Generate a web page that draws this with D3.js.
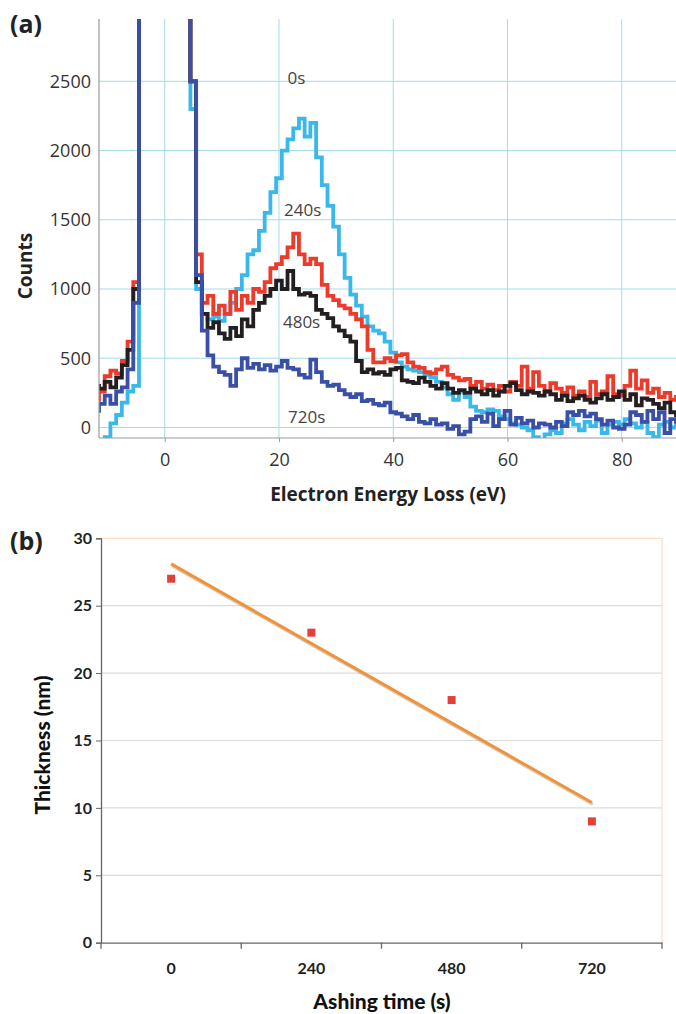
<!DOCTYPE html>
<html>
<head>
<meta charset="utf-8">
<script src="https://cdn.jsdelivr.net/npm/d3@7"></script>
<style>
body { margin: 0; background: #fff; }
svg { display: block; }
</style>
</head>
<body>
<svg width="676" height="1014"></svg>
<script>
// ---- panel (a) data: EELS counts, 1 eV steps from -12 to 90 eV
var energy = d3.range(-12, 91);

var counts0s = [-110, -90, -70, 30, 90, 180, 260, 300,
  9000, 30000, 30000, 30000, 30000, 30000, 30000, 30000, 9000,
  2300, 1000, 820, 780, 800, 770, 820, 900, 1000, 1100,
  1250, 1280, 1420, 1550, 1700, 1800, 2000, 2080, 2160, 2230,
  2100, 2200, 1950, 1750, 1600, 1450, 1250, 1080, 960, 880,
  800, 730, 700, 680, 620, 540, 470, 440, 420, 410,
  400, 380, 360, 330, 290, 240, 200, 260, 220, 150,
  120, 110, 130, 120, 80, 60, 30, 20, 0, -20,
  -70, -90, -50, -20, -40, 30, 60, 20, -20, 40,
  10, 50, -40, 20, 40, 20, 60, 30, 0, 40,
  -40, -70, 20, 40, 0, 30];

var counts240s = [200, 260, 370, 410, 390, 480, 620, 1050,
  9000, 30000, 30000, 30000, 30000, 30000, 30000, 30000, 9000,
  2500, 1250, 900, 950, 820, 880, 820, 980, 850, 950,
  900, 1000, 980, 1050, 1150, 1180, 1230, 1300, 1400, 1250,
  1180, 1220, 1180, 1030, 950, 920, 880, 860, 820, 780,
  730, 560, 470, 470, 500, 480, 520, 530, 470, 440,
  430, 400, 390, 420, 440, 380, 360, 340, 350, 300,
  330, 280, 310, 270, 300, 260, 330, 300, 440, 280,
  400, 300, 260, 320, 280, 250, 290, 230, 260, 220,
  330, 240, 260, 370, 240, 230, 300, 410, 280, 340,
  250, 280, 220, 250, 200, 220];

var counts480s = [300, 280, 330, 290, 360, 450, 560, 1000,
  9000, 30000, 30000, 30000, 30000, 30000, 30000, 30000, 9000,
  2500, 1050, 820, 720, 760, 680, 640, 720, 660, 780,
  730, 850, 900, 950, 1000, 1060, 1000, 1130, 1000, 960,
  970, 950, 850, 820, 790, 730, 700, 660, 620, 480,
  400, 420, 390, 400, 380, 420, 430, 340, 330, 320,
  360, 330, 300, 280, 320, 280, 250, 270, 250, 280,
  260, 240, 270, 230, 260, 300, 320, 270, 240, 260,
  250, 230, 260, 240, 200, 230, 190, 210, 230, 200,
  180, 210, 240, 200, 220, 260, 200, 240, 160, 210,
  200, 170, 140, 180, 110, 90];

var counts720s = [120, 170, 230, 170, 260, 290, 420, 900,
  9000, 30000, 30000, 30000, 30000, 30000, 30000, 30000, 9000,
  2500, 1100, 700, 520, 440, 400, 380, 300, 420, 500,
  430, 460, 420, 450, 410, 440, 480, 430, 420, 380,
  360, 490, 400, 330, 300, 310, 270, 240, 220, 240,
  190, 200, 170, 160, 180, 110, 100, 80, 60, 90,
  40, 30, 60, 20, 30, -10, 10, -50, -30, 60,
  80, 40, 100, 10, 60, 120, 20, 70, 30, 50,
  0, 30, 20, 0, 40, 10, 110, 90, 120, 80,
  100, 60, 20, 50, 0, -10, 20, 110, 90, 40,
  120, 60, 110, -40, 60, 40];

var seriesNames = ["0s", "240s", "480s", "720s"];
var seriesColors = ["#3bb8ea", "#ec3a2b", "#231f20", "#3a4fa6"];
var countTicks = [0, 500, 1000, 1500, 2000, 2500];
var energyTicks = [0, 20, 40, 60, 80];
// where the time labels sit (eV, counts)
var labelPos = [[21.5, 2480], [20.9, 1530], [20.7, 720], [21.6, 30]];

// ---- panel (b) data
var ashTimes = ["0", "240", "480", "720"];
var thickness = [27, 23, 18, 9];
var thickTicks = [0, 5, 10, 15, 20, 25, 30];

var svg = d3.select("svg");

// ================= panel (a)
var ax = { left: 99, right: 676, top: 19, bottom: 438 };

var x = d3.scaleLinear().domain([-11.5, 89.5]).range([ax.left, ax.right]);
var y = d3.scaleLinear().domain([-76, 2950]).range([ax.bottom, ax.top]);

var ga = svg.append("g");

ga.append("clipPath").attr("id", "clipA")
  .append("rect")
    .attr("x", ax.left).attr("y", ax.top)
    .attr("width", ax.right - ax.left).attr("height", ax.bottom - ax.top);

// grid
ga.selectAll("line.hgrid")
  .data(countTicks)
  .enter().append("line")
    .attr("x1", ax.left).attr("x2", ax.right)
    .attr("y1", function(d) { return y(d); })
    .attr("y2", function(d) { return y(d); })
    .attr("stroke", "#a6dbe8").attr("stroke-width", 1);

ga.selectAll("line.vgrid")
  .data(energyTicks)
  .enter().append("line")
    .attr("y1", ax.top).attr("y2", ax.bottom)
    .attr("x1", function(d) { return x(d); })
    .attr("x2", function(d) { return x(d); })
    .attr("stroke", "#a6dbe8").attr("stroke-width", 1);

// spectra
var allSeries = [counts0s, counts240s, counts480s, counts720s];
var line = d3.line()
    .x(function(d, i) { return x(energy[i]); })
    .y(function(d) { return y(d); })
    .curve(d3.curveStep);

ga.append("g")
    .attr("clip-path", "url(#clipA)")
  .selectAll("path")
  .data(allSeries)
  .enter().append("path")
    .attr("d", line)
    .attr("fill", "none")
    .attr("stroke", function(d, i) { return seriesColors[i]; })
    .attr("stroke-width", 3.8)
    .attr("stroke-linejoin", "miter");

// axes
var yAxisA = ga.append("g")
    .attr("transform", "translate(" + ax.left + ",0)")
    .call(d3.axisLeft(y).tickValues(countTicks).tickFormat(d3.format("d"))
      .tickSize(0).tickPadding(8));
yAxisA.select(".domain").remove();
yAxisA.selectAll("text")
    .attr("font-family", "Open Sans, sans-serif")
    .attr("font-size", 18)
    .attr("fill", "#333");

var xAxisA = ga.append("g")
    .attr("transform", "translate(0," + ax.bottom + ")")
    .call(d3.axisBottom(x).tickValues(energyTicks).tickSize(4));
xAxisA.select(".domain").remove();
xAxisA.selectAll(".tick line").attr("stroke", "#9a9a9a");
xAxisA.selectAll("text")
    .attr("dy", null).attr("y", 28)
    .attr("font-family", "Open Sans, sans-serif")
    .attr("font-size", 18)
    .attr("fill", "#333");

ga.append("line")
    .attr("x1", ax.left).attr("x2", ax.left)
    .attr("y1", ax.top).attr("y2", ax.bottom)
    .attr("stroke", "#9a9a9a").attr("stroke-width", 1.2);
ga.append("line")
    .attr("x1", ax.left).attr("x2", ax.right)
    .attr("y1", ax.bottom).attr("y2", ax.bottom)
    .attr("stroke", "#9a9a9a").attr("stroke-width", 1.2);

// time labels
ga.selectAll("text.tlabel")
  .data(seriesNames)
  .enter().append("text")
    .attr("x", function(d, i) { return x(labelPos[i][0]); })
    .attr("y", function(d, i) { return y(labelPos[i][1]); })
    .attr("font-family", "Open Sans, sans-serif")
    .attr("font-size", 17)
    .attr("fill", "#444")
    .text(function(d) { return d; });

ga.append("text")
    .attr("x", 388).attr("y", 501)
    .attr("text-anchor", "middle")
    .attr("font-family", "Open Sans, sans-serif")
    .attr("font-weight", "bold")
    .attr("font-size", 19)
    .attr("fill", "#222")
    .text("Electron Energy Loss (eV)");

ga.append("text")
    .attr("transform", "translate(32,266) rotate(-90)")
    .attr("text-anchor", "middle")
    .attr("font-family", "Open Sans, sans-serif")
    .attr("font-weight", "bold")
    .attr("font-size", 19)
    .attr("fill", "#222")
    .text("Counts");

ga.append("text")
    .attr("x", 10).attr("y", 33)
    .attr("font-family", "Open Sans, sans-serif")
    .attr("font-weight", "bold")
    .attr("font-size", 25)
    .attr("fill", "#222")
    .text("(a)");

// ================= panel (b)
var bx = { left: 101, right: 662, top: 538.3, bottom: 942.7 };

var xb = d3.scaleBand().domain(ashTimes).range([bx.left, bx.right]);
var yb = d3.scaleLinear().domain([0, 30]).range([bx.bottom, bx.top]);
var bw = xb.bandwidth();

var gb = svg.append("g");

gb.selectAll("line.grid")
  .data(thickTicks.slice(1, -1))
  .enter().append("line")
    .attr("x1", bx.left).attr("x2", bx.right)
    .attr("y1", function(d) { return yb(d); })
    .attr("y2", function(d) { return yb(d); })
    .attr("stroke", "#dcdcdc").attr("stroke-width", 1.2);

// light orange frame top and right
gb.append("path")
    .attr("d", "M" + bx.left + "," + yb(30) + "H" + bx.right + "V" + bx.bottom)
    .attr("fill", "none")
    .attr("stroke", "#fcdcc4").attr("stroke-width", 1.2);

var yAxisB = gb.append("g")
    .attr("transform", "translate(" + bx.left + ",0)")
    .call(d3.axisLeft(yb).tickValues(thickTicks).tickSize(5).tickPadding(4));
yAxisB.select(".domain").attr("stroke", "#666").attr("stroke-width", 1.3);
yAxisB.selectAll(".tick line").attr("stroke", "#666");
yAxisB.selectAll("text")
    .attr("font-family", "Lato, sans-serif")
    .attr("font-weight", "bold")
    .attr("font-size", 16)
    .attr("fill", "#222");

var xAxisB = gb.append("g")
    .attr("transform", "translate(0," + bx.bottom + ")")
    .call(d3.axisBottom(xb).tickSize(0).tickPadding(0));
xAxisB.select(".domain").attr("stroke", "#666").attr("stroke-width", 1.3);
xAxisB.selectAll("text")
    .attr("dy", null).attr("y", 31)
    .attr("font-family", "Lato, sans-serif")
    .attr("font-weight", "bold")
    .attr("font-size", 16)
    .attr("fill", "#222");
// tick marks between categories
xAxisB.selectAll("line.sep")
  .data(ashTimes.concat(["end"]))
  .enter().append("line")
    .attr("x1", function(d, i) { return bx.left + i * bw; })
    .attr("x2", function(d, i) { return bx.left + i * bw; })
    .attr("y1", 0).attr("y2", 6)
    .attr("stroke", "#666").attr("stroke-width", 1.3);

// linear trend
var tNum = ashTimes.map(Number);
var mx = d3.mean(tNum), my = d3.mean(thickness);
var slope = d3.sum(tNum, function(t, i) { return (t - mx) * (thickness[i] - my); }) /
            d3.sum(tNum, function(t) { return (t - mx) * (t - mx); });
var icept = my - slope * mx;
var trend = [0, ashTimes.length - 1].map(function(i) {
  return [xb(ashTimes[i]) + bw / 2, yb(icept + slope * tNum[i])];
});

gb.append("line")
    .attr("x1", trend[0][0] + 1).attr("y1", trend[0][1] + 2)
    .attr("x2", trend[1][0] + 1).attr("y2", trend[1][1] + 2)
    .attr("stroke", "#999").attr("stroke-opacity", 0.45).attr("stroke-width", 3);
gb.append("line")
    .attr("x1", trend[0][0]).attr("y1", trend[0][1])
    .attr("x2", trend[1][0]).attr("y2", trend[1][1])
    .attr("stroke", "#f29237").attr("stroke-width", 3);

gb.selectAll("rect.pt")
  .data(thickness)
  .enter().append("rect")
    .attr("x", function(d, i) { return xb(ashTimes[i]) + bw / 2 - 4; })
    .attr("y", function(d) { return yb(d) - 4; })
    .attr("width", 8).attr("height", 8)
    .attr("fill", "#e2403c");

gb.append("text")
    .attr("transform", "translate(50,745) rotate(-90)")
    .attr("text-anchor", "middle")
    .attr("font-family", "Lato, sans-serif")
    .attr("font-weight", "900")
    .attr("font-size", 21)
    .attr("fill", "#111")
    .text("Thickness (nm)");

gb.append("text")
    .attr("x", 382).attr("y", 1009)
    .attr("text-anchor", "middle")
    .attr("font-family", "Lato, sans-serif")
    .attr("font-weight", "900")
    .attr("font-size", 21)
    .attr("fill", "#111")
    .text("Ashing time (s)");

gb.append("text")
    .attr("x", 10).attr("y", 550)
    .attr("font-family", "Open Sans, sans-serif")
    .attr("font-weight", "bold")
    .attr("font-size", 25)
    .attr("fill", "#222")
    .text("(b)");
</script>
</body>
</html>
